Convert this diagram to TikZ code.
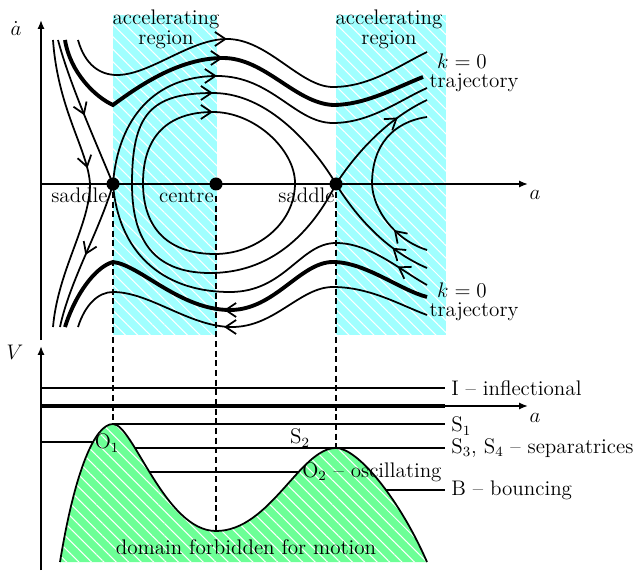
\documentclass[tikz,border=0pt]{standalone}
\usetikzlibrary{arrows.meta,patterns.meta,calc}
\definecolor{acccyan}{RGB}{160,255,255}
\definecolor{forbgreen}{RGB}{108,255,150}
\tikzset{
  curve/.style={line width=1pt},
  kzero/.style={line width=2.2pt},
  flowtip/.style={line width=1pt,-{Straight Barb[length=6pt,width=8pt]}},
  axis/.style={line width=1pt,-{Latex[length=5pt,width=4pt]}},
  dashln/.style={line width=1pt,dash pattern=on 3.5pt off 2pt},
  level/.style={line width=1pt},
  lbl/.style={inner sep=0pt},
  hatch/.style={pattern={Lines[angle=-45,distance=5pt,line width=0.6pt]},pattern color=white},
}
\newcommand\flowarrow[2]{\draw[flowtip] ($(#2)!0.3!(#1)$) -- (#2);}
\begin{document}
\begin{tikzpicture}[x=0.02cm,y=-0.02cm,font=\fontsize{12}{14}\selectfont]
\useasboundingbox (0,0) rectangle (644,570);
% accelerating regions
\fill[acccyan] (113,15) rectangle (217,335);
\fill[acccyan] (336,15) rectangle (446,335);
\fill[hatch] (113,15) rectangle (217,335);
\fill[hatch] (336,15) rectangle (446,335);
\node[lbl,anchor=base] (acc1a) at (166,25) {accelerating};
\node[lbl,anchor=base] (acc1b) at (166,45) {region};
\node[lbl,anchor=base] (acc2a) at (389,25) {accelerating};
\node[lbl,anchor=base] (acc2b) at (389,45) {region};
% dashed verticals
\draw[dashln] (113,192) -- (113,424);
\draw[dashln] (216,196) -- (216,531);
\draw[dashln] (336,192) -- (336,448);
% phase portrait curves
\draw[curve] (78,40) .. controls (85,65) and (100,75) .. (117,75) .. controls (150,75) and (190,39) .. (227,39) .. controls (268,39) and (300,87) .. (333,87) .. controls (370,87) and (400,65) .. (427,52);
\draw[kzero] (65,40) .. controls (70,72) and (95,97) .. (113,105) .. controls (140,85) and (180,58) .. (223,58) .. controls (265,58) and (295,103) .. (333,105) .. controls (365,105) and (395,88) .. (423,77);
\draw[curve] (113,184) .. controls (118,118) and (155,76) .. (217,76) .. controls (272,76) and (295,123) .. (333,123) .. controls (370,123) and (400,100) .. (427,88);
\draw[curve] (58,40) .. controls (70,85) and (95,140) .. (113,184);
\draw[curve] (113,184) .. controls (100,230) and (70,280) .. (60,327);
\draw[curve] (113,184) .. controls (118,250) and (160,292) .. (230,292) .. controls (285,292) and (300,243) .. (336,243) .. controls (370,243) and (400,270) .. (427,285);
\draw[curve] (53,40) .. controls (58,110) and (88,150) .. (90,184) .. controls (90,225) and (58,270) .. (53,327);
\draw[kzero] (65,327) .. controls (75,295) and (95,267) .. (113,262) .. controls (140,265) and (180,310) .. (230,310) .. controls (275,310) and (300,262) .. (333,262) .. controls (365,262) and (400,290) .. (427,297);
\draw[curve] (78,327) .. controls (85,305) and (98,292) .. (113,292) .. controls (150,292) and (190,327) .. (232,327) .. controls (275,327) and (300,287) .. (333,287) .. controls (370,287) and (400,305) .. (427,315);
\draw[curve] (336,184) .. controls (310,235) and (270,273) .. (210,273) .. controls (150,273) and (132,235) .. (132,184) .. controls (132,115) and (150,93) .. (213,93) .. controls (275,93) and (322,160) .. (336,184);
\draw[curve] (143,183) .. controls (143,136) and (168,112) .. (213,112) .. controls (255,112) and (295,150) .. (295,183) .. controls (295,225) and (255,254) .. (215,254) .. controls (170,254) and (143,230) .. (143,183) -- cycle;
\draw[curve] (336,184) .. controls (355,155) and (385,120) .. (427,100);
\draw[curve] (336,184) .. controls (355,215) and (385,250) .. (427,268);
\draw[curve] (427,117) .. controls (393,122) and (372,145) .. (372,184) .. controls (373,210) and (395,240) .. (427,250);
% flow arrows
\flowarrow{217,39}{227,39}
\flowarrow{213,58}{223,58}
\flowarrow{207,76}{217,76}
\flowarrow{203,93}{213,93}
\flowarrow{203,112}{213,112}
\flowarrow{389.7,123.5}{397.7,117.5}
\flowarrow{84.9,158.5}{87.4,168.2}
\flowarrow{80.8,106.1}{84.5,115.4}
\flowarrow{89.35,245.8}{85.4,255}
\flowarrow{234,310}{224,310}
\flowarrow{234,327}{224,327}
\flowarrow{401,237}{394,230}
\flowarrow{400,254}{392.4,247.8}
\flowarrow{406.4,271.9}{397.6,266.5}
% top axes
\draw[axis] (41,340) -- (41,20);
\draw[axis] (41,184) -- (528,184);
\fill (113,184) circle[radius=6.5];
\fill (216,184) circle[radius=6.5];
\fill (336,184) circle[radius=6.5];
\node[lbl,anchor=base east] (sad1) at (108,203) {saddle};
\node[lbl,anchor=base east] (cen) at (214,203) {centre};
\node[lbl,anchor=base east] (sad2) at (335,203) {saddle};
\node[lbl] (la1) at (535,195) {$a$};
\node[lbl] (lad) at (16,29) {$\dot a$};
\node[lbl,anchor=base] (k1) at (462,69) {$k=0$};
\node[lbl,anchor=base] (t1) at (474,88) {trajectory};
\node[lbl,anchor=base] (k2) at (462,297) {$k=0$};
\node[lbl,anchor=base] (t2) at (474,316) {trajectory};
% potential panel
\draw[level] (41,388) -- (445,388);
\draw[level] (113,424) -- (445,424);
\draw[level] (125,448) -- (445,448);
\draw[level] (41,442) -- (100,442);
\draw[level] (140,472) -- (305,472);
\draw[level] (375,490) -- (445,490);
\draw[axis] (41,570) -- (41,346);
\draw[axis] (41,406) -- (528,406);
\draw[line width=2pt] (41,406) -- (445,406);
\fill[forbgreen] (60,562) .. controls (75,470) and (95,424) .. (113,424) .. controls (133,424) and (165,531) .. (216,531) .. controls (270,531) and (300,448) .. (336,448) .. controls (358,448) and (400,500) .. (427,562) -- cycle;
\fill[hatch] (60,562) .. controls (75,470) and (95,424) .. (113,424) .. controls (133,424) and (165,531) .. (216,531) .. controls (270,531) and (300,448) .. (336,448) .. controls (358,448) and (400,500) .. (427,562) -- cycle;
\draw[level] (60,562) .. controls (75,470) and (95,424) .. (113,424) .. controls (133,424) and (165,531) .. (216,531) .. controls (270,531) and (300,448) .. (336,448) .. controls (358,448) and (400,500) .. (427,562);
\node[lbl] (lV) at (15,352) {$V$};
\node[lbl] (la2) at (535,418) {$a$};
\node[lbl,anchor=west] (lI) at (451,388) {I -- inflectional};
\node[lbl,anchor=west] (lS1) at (451,426) {S$_1$};
\node[lbl,anchor=west] (lS34) at (451,448) {S$_3$, S$_4$ -- separatrices};
\node[lbl,anchor=west] (lB) at (451,490) {B -- bouncing};
\node[lbl,anchor=west] (lO2) at (302,472) {O$_2$ -- oscillating};
\node[lbl] (lS2) at (300,438) {S$_2$};
\node[lbl] (lO1) at (107,443) {O$_1$};
\node[lbl,anchor=base] (ldom) at (246,554) {domain forbidden for motion};
\end{tikzpicture}
\end{document}
